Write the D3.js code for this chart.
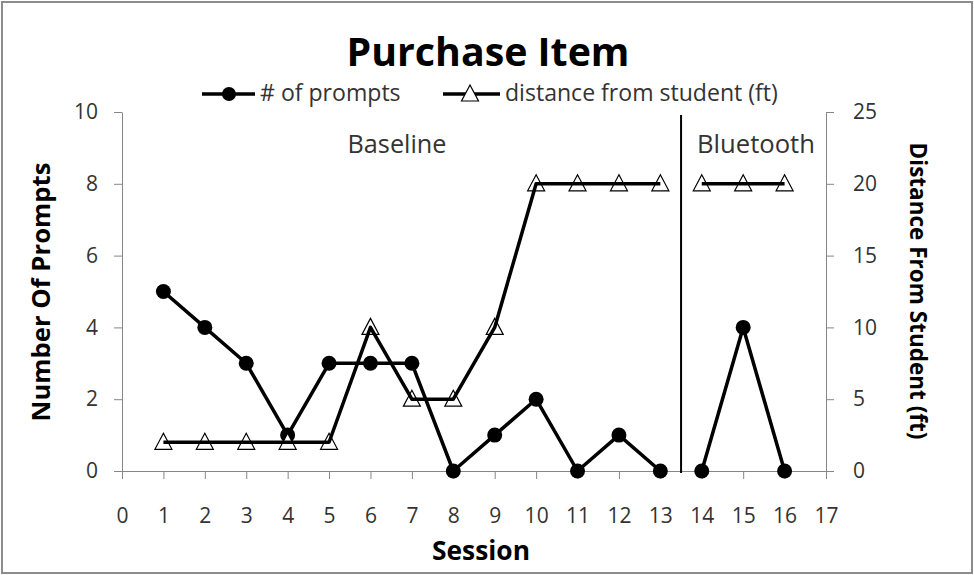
<!DOCTYPE html>
<html>
<head>
<meta charset="utf-8">
<script src="https://cdn.jsdelivr.net/npm/d3@7"></script>
<style>
  body { margin: 0; background: #fff; }
  text { font-family: "Open Sans", sans-serif; }
</style>
</head>
<body>
<div id="chart"></div>
<script>
// datos:
const baselineSessions = [1, 2, 3, 4, 5, 6, 7, 8, 9, 10, 11, 12, 13]
const baselinePrompts = [5, 4, 3, 1, 3, 3, 3, 0, 1, 2, 0, 1, 0]
const baselineDistance = [2, 2, 2, 2, 2, 10, 5, 5, 10, 20, 20, 20, 20]
const bluetoothSessions = [14, 15, 16]
const bluetoothPrompts = [0, 4, 0]
const bluetoothDistance = [20, 20, 20]
const phaseChange = 13.5
const phaseNames = ["Baseline", "Bluetooth"]
const xTicks = d3.range(0, 18)
const leftTicks = [0, 2, 4, 6, 8, 10]
const rightTicks = [0, 5, 10, 15, 20, 25]

// constantes:
const width = 974
const height = 575
const axisColor = "#868686"
const textColor = "#333"

let svg = d3.select('div#chart').append('svg').attr('width', width).attr('height', height)

// escalas:
let x = d3.scaleLinear().domain([0, 17]).range([122, 826])
let yL = d3.scaleLinear().domain([0, 10]).range([471, 112])
let yR = d3.scaleLinear().domain([0, 25]).range([471, 112])

// ajusta el tamaño de letra para que el texto ocupe un ancho dado
function fit(t, w) {
    let s = parseFloat(t.style('font-size'))
    let l = t.node().getComputedTextLength()
    t.style('font-size', (s * w / l) + 'px')
    return s * w / l
}

// marco
svg.append('rect').attr('x', 2).attr('y', 2).attr('width', width - 4).attr('height', height - 4)
    .attr('fill', 'none').attr('stroke', '#8c8c8c').attr('stroke-width', 2)

// titulo
let title = svg.append('text').attr('x', 488).attr('y', 66).attr('text-anchor', 'middle')
    .style('font-weight', 'bold').style('font-size', '38px').attr('fill', '#000').text('Purchase Item')
fit(title, 283)

// ejes:
function styleAxis(g) {
    g.selectAll('path, line').attr('stroke', axisColor)
    g.selectAll('text').attr('fill', textColor).style('font-size', '21px')
        .style('font-family', '"Open Sans", sans-serif')
}
let xAxis = d3.axisBottom(x).tickValues(xTicks).tickSize(8).tickSizeOuter(0).tickPadding(29)
let yAxisL = d3.axisLeft(yL).tickValues(leftTicks).tickSize(8).tickSizeOuter(0).tickPadding(16)
let yAxisR = d3.axisRight(yR).tickValues(rightTicks).tickSize(8).tickSizeOuter(0).tickPadding(19)

svg.append('g').attr('transform', `translate(0, ${yL(0)})`).call(xAxis).call(styleAxis)
svg.append('g').attr('transform', `translate(${x(0)}, 0)`).call(yAxisL).call(styleAxis)
svg.append('g').attr('transform', `translate(${x(17)}, 0)`).call(yAxisR).call(styleAxis)

// titulos de ejes
let xt = svg.append('text').attr('x', 481).attr('y', 560).attr('text-anchor', 'middle')
    .style('font-weight', 'bold').style('font-size', '24px').text('Session')
fit(xt, 98)
let ylt = svg.append('text').attr('transform', 'translate(50, 292) rotate(-90)').attr('text-anchor', 'middle')
    .style('font-weight', 'bold').style('font-size', '24px').text('Number Of Prompts')
fit(ylt, 259)
let yrt = svg.append('text').attr('transform', 'translate(910, 291) rotate(90)').attr('text-anchor', 'middle')
    .style('font-weight', 'bold').style('font-size', '24px').text('Distance From Student (ft)')
fit(yrt, 297)

// linea de cambio de fase
svg.append('line').attr('x1', x(phaseChange)).attr('x2', x(phaseChange))
    .attr('y1', yL(10) + 3).attr('y2', yL(0) + 2).attr('stroke', '#000').attr('stroke-width', 2)

let p1 = svg.append('text').attr('x', 397).attr('y', 153).attr('text-anchor', 'middle')
    .attr('fill', textColor).style('font-size', '22px').text(phaseNames[0])
fit(p1, 99)
let p2 = svg.append('text').attr('x', 756).attr('y', 153).attr('text-anchor', 'middle')
    .attr('fill', textColor).style('font-size', '22px').text(phaseNames[1])
fit(p2, 118)

// series
const tri = 'M0,-9L8.5,7L-8.5,7Z'
let promptLine = d3.line().x(d => x(d[0])).y(d => yL(d[1]))
let distLine = d3.line().x(d => x(d[0])).y(d => yR(d[1]))

let phases = [
    { s: baselineSessions, p: baselinePrompts, d: baselineDistance },
    { s: bluetoothSessions, p: bluetoothPrompts, d: bluetoothDistance }
]
let marks = svg.append('g')
phases.forEach(ph => {
    let pp = ph.s.map((s, i) => [s, ph.p[i]])
    let dd = ph.s.map((s, i) => [s, ph.d[i]])
    marks.append('path').attr('d', promptLine(pp)).attr('fill', 'none')
        .attr('stroke', '#000').attr('stroke-width', 3.5).attr('stroke-linejoin', 'round')
    marks.selectAll(null).data(pp).enter().append('circle')
        .attr('cx', d => x(d[0])).attr('cy', d => yL(d[1])).attr('r', 7.5).attr('fill', '#000')
    marks.selectAll(null).data(dd).enter().append('path').attr('d', tri)
        .attr('transform', d => `translate(${x(d[0])}, ${yR(d[1])})`)
        .attr('fill', '#fff').attr('stroke', '#000').attr('stroke-width', 1.2)
    marks.append('path').attr('d', distLine(dd)).attr('fill', 'none')
        .attr('stroke', '#000').attr('stroke-width', 3.5).attr('stroke-linejoin', 'round')
})

// leyenda
let leg = svg.append('g')
leg.append('line').attr('x1', 202).attr('x2', 255).attr('y1', 94).attr('y2', 94)
    .attr('stroke', '#000').attr('stroke-width', 3.5)
leg.append('circle').attr('cx', 229).attr('cy', 94).attr('r', 7).attr('fill', '#000')
let l1 = leg.append('text').attr('x', 260).attr('y', 101).style('font-size', '22px')
    .attr('fill', textColor).text('# of prompts')
leg.append('line').attr('x1', 443).attr('x2', 500).attr('y1', 94).attr('y2', 94)
    .attr('stroke', '#000').attr('stroke-width', 3.5)
leg.append('path').attr('d', tri).attr('transform', 'translate(470, 94)')
    .attr('fill', '#fff').attr('stroke', '#000').attr('stroke-width', 1.2)
let l2 = leg.append('text').attr('x', 505).attr('y', 101).style('font-size', '22px')
    .attr('fill', textColor).text('distance from student (ft)')
let ls = fit(l2, 273)
l1.style('font-size', ls + 'px')
</script>
</body>
</html>
